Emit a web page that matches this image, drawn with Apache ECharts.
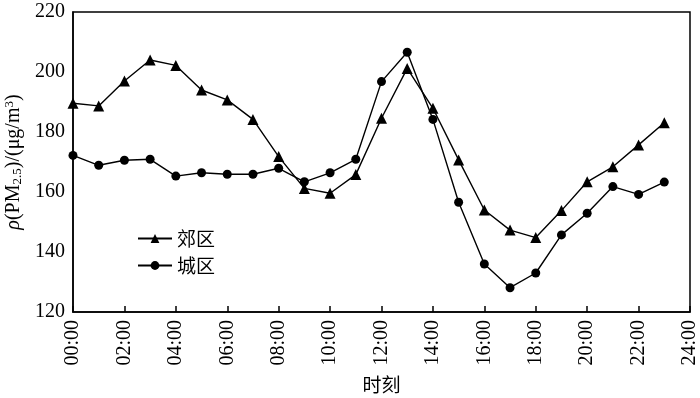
<!DOCTYPE html>
<html>
<head>
<meta charset="utf-8">
<script src="https://cdn.jsdelivr.net/npm/echarts@6/dist/echarts.min.js"></script>
<style>
  html, body { margin: 0; padding: 0; background: #fff; }
  #chart { width: 700px; height: 398px; }
</style>
</head>
<body>
<div id="chart"></div>
<script>
  // hours 0..23, readings in ug/m3
  var hours = [0, 1, 2, 3, 4, 5, 6, 7, 8, 9, 10, 11, 12, 13, 14, 15, 16, 17, 18, 19, 20, 21, 22, 23];
  var suburb = [189.6, 188.7, 197, 204, 202.2, 194, 190.7, 184.2, 171.8, 161.2, 159.6, 165.8,
    184.6, 201.2, 187.9, 170.7, 154, 147.3, 144.8, 153.8, 163.4, 168.4, 175.7, 183.1];
  var urban = [172.2, 168.9, 170.6, 170.9, 165.3, 166.4, 165.9, 165.9, 167.9, 163.4, 166.4, 170.9,
    196.8, 206.6, 184.2, 156.6, 136, 128.1, 133, 145.7, 152.9, 161.8, 159.2, 163.3];
  var seriesNames = ["郊区", "城区"];

  function pairs(vals) {
    return hours.map(function (h, i) { return [h, vals[i]]; });
  }

  var chart = echarts.init(document.getElementById("chart"), null, { renderer: "canvas" });
  var serif = "Liberation Serif";
  var option = {
    animation: false,
    grid: {
      left: 73,
      right: 10,
      top: 12,
      bottom: 86,
      outerBoundsMode: "none",
      show: true,
      borderColor: "#000",
      borderWidth: 1.5,
    },
    legend: {
      orient: "vertical",
      left: 132,
      top: 224,
      itemWidth: 34,
      itemHeight: 11,
      itemGap: 8,
      textStyle: { fontFamily: "Noto Sans CJK SC", fontSize: 19, color: "#000" },
      data: seriesNames,
    },
    xAxis: {
      type: "value",
      min: 0,
      max: 24,
      interval: 2,
      name: "时刻",
      nameLocation: "middle",
      nameGap: 63,
      nameTextStyle: { fontFamily: "Noto Sans CJK SC", fontSize: 19, color: "#000" },
      axisLine: { lineStyle: { color: "#000", width: 1.5 } },
      axisTick: { inside: true, length: 6, lineStyle: { color: "#000", width: 1.5 } },
      splitLine: { show: false },
      axisLabel: {
        rotate: 90,
        margin: 8,
        color: "#000",
        fontFamily: serif,
        fontSize: 20,
        formatter: function (v) { return (v < 10 ? "0" + v : v) + ":00"; },
      },
    },
    yAxis: {
      type: "value",
      min: 120,
      max: 220,
      interval: 20,
      name: "{i|ρ}(PM{sub|2.5})/(μg/m{sup|3})",
      nameLocation: "middle",
      nameGap: 41,
      nameTextStyle: {
        fontFamily: serif,
        fontSize: 20,
        color: "#000",
        rich: {
          i: { fontFamily: serif, fontStyle: "italic", fontSize: 20, color: "#000" },
          sub: { fontFamily: serif, fontSize: 13, color: "#000", verticalAlign: "bottom", padding: [8, 0, 0, 0] },
          sup: { fontFamily: serif, fontSize: 13, color: "#000", verticalAlign: "top", padding: [0, 0, 8, 0] },
        },
      },
      axisLine: { show: true, lineStyle: { color: "#000", width: 1.5 } },
      axisTick: { show: false },
      splitLine: { show: false },
      axisLabel: { color: "#000", fontFamily: serif, fontSize: 20, margin: 8 },
    },
    series: [
      {
        name: seriesNames[0],
        type: "line",
        data: pairs(suburb),
        symbol: "triangle",
        symbolSize: 11,
        lineStyle: { color: "#000", width: 1.4 },
        itemStyle: { color: "#000" },
      },
      {
        name: seriesNames[1],
        type: "line",
        data: pairs(urban),
        symbol: "circle",
        symbolSize: 9,
        lineStyle: { color: "#000", width: 1.4 },
        itemStyle: { color: "#000" },
      },
    ],
  };
  chart.setOption(option);
</script>
</body>
</html>
